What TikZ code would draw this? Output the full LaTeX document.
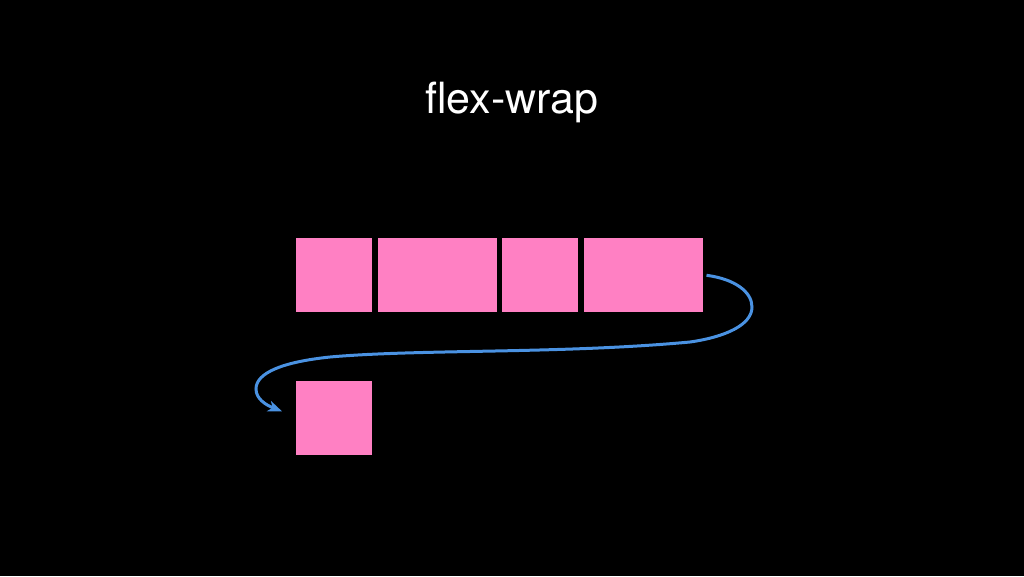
\documentclass[tikz,border=0pt]{standalone}
\usepackage{fontspec}
\setmainfont{TeX Gyre Heros}
\usetikzlibrary{arrows.meta,positioning}
\definecolor{ItemPink}{RGB}{255,128,195}
\definecolor{WrapBlue}{RGB}{74,146,226}

\tikzset{
	item/.style={fill=ItemPink, draw=none, inner sep=0pt, outer sep=0pt, minimum width=76pt, minimum height=74pt},
	wideitem/.style={item, minimum width=119pt},
	wrapline/.style={WrapBlue, line width=3pt, -{Stealth[length=14pt,width=11pt,inset=4pt]}}
}

\begin{document}
\begin{tikzpicture}[x=1pt, y=-1pt]
		\fill[black] (0,0) rectangle (1024,576);
		\useasboundingbox (0,0) rectangle (1024,576);
		
		\node[white, anchor=base, font=\fontsize{43}{50}\selectfont] (title) at (512,113) {flex-wrap};
		
		% first line of the flex container
		\node[item] (b1) at (334,275.3) {};
		\node[wideitem, right=5.5pt of b1] (b2) {};
		\node[item, right=5.5pt of b2] (b3) {};
		\node[wideitem, right=5.5pt of b3] (b4) {};
		% wrapped item
		\node[item, below=69pt of b1] (b5) {};
		
		\coordinate (from) at ([xshift=4pt]b4.east);
		\coordinate (to) at ([xshift=-14pt, yshift=-30pt]b5.north west);
		\draw[wrapline] (from) .. controls (735,279) and (752,292) .. (752,307)
			.. controls (752,325) and (725,337) .. (690,342)
			.. controls (560,354) and (420,349) .. (330,357)
			.. controls (282,362) and (256,373) .. (256,389)
			.. controls (256,399) and (266,405) .. (to);
	\end{tikzpicture}
\end{document}
